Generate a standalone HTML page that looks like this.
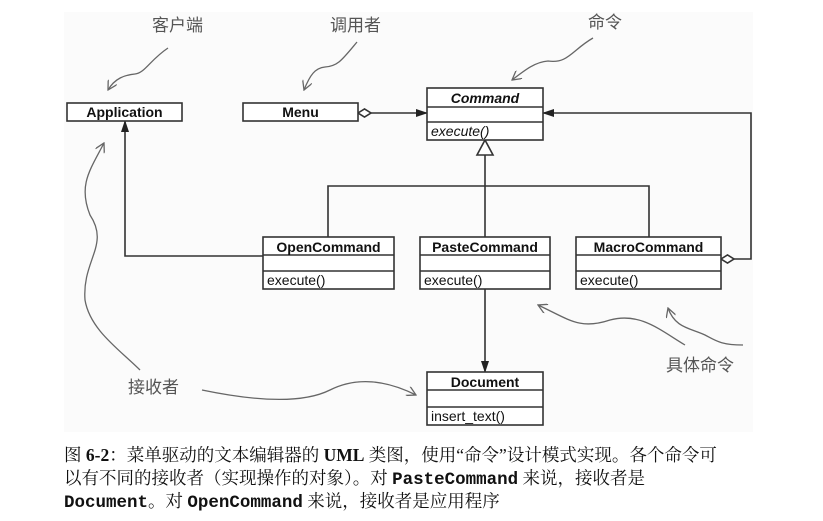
<!DOCTYPE html>
<html><head><meta charset="utf-8"><style>
body{margin:0;background:#fff;width:823px;height:521px;overflow:hidden;position:relative;font-family:"Liberation Sans","Noto Sans CJK SC",sans-serif}
svg{position:absolute;left:0;top:0}
.cap{position:absolute;left:64px;font-family:"Liberation Serif","Noto Serif CJK SC",serif;font-size:17.5px;line-height:23px;color:#111;white-space:nowrap}
.m{font-family:"Liberation Mono","Noto Sans CJK SC",monospace;font-weight:bold;font-size:17.5px}
</style></head><body>
<svg width="823" height="521" viewBox="0 0 823 521">
<defs>
<marker id="ah" markerWidth="12" markerHeight="8" refX="11" refY="4" orient="auto" markerUnits="userSpaceOnUse"><path d="M0,0 L12,4 L0,8 Z" fill="#222"/></marker>
<marker id="sa" markerWidth="12" markerHeight="10" refX="1" refY="5" orient="auto" markerUnits="userSpaceOnUse"><path d="M10,0 L1,5 L10,10" fill="none" stroke="#666" stroke-width="1.3"/></marker>
</defs>
<rect x="64" y="12" width="689" height="420" fill="#fbfbfb"/>
<g stroke="#333" stroke-width="1.6" fill="none">
<line x1="371" y1="113" x2="427" y2="113" marker-end="url(#ah)"/>
<path d="M358,113 L364.5,109 L371,113 L364.5,117 Z" fill="#fff"/>
<polyline points="734,259 751,259 751,113 543,113" marker-end="url(#ah)"/>
<path d="M721,259 L727.5,255 L734,259 L727.5,263 Z" fill="#fff"/>
<path d="M485,140 L477,155 L493,155 Z" fill="#fff"/>
<line x1="485" y1="155" x2="485" y2="237"/>
<polyline points="328,237 328,186 649,186 649,237"/>
<polyline points="263,256 125,256 125,121" marker-end="url(#ah)"/>
<line x1="485" y1="289" x2="485" y2="372" marker-end="url(#ah)"/>
</g>
<g stroke="#333" stroke-width="1.6" fill="#fff">
<rect x="67" y="103" width="115" height="18"/>
<rect x="243" y="103" width="115" height="18"/>
<rect x="427" y="88" width="116" height="52"/>
<line x1="427" y1="107" x2="543" y2="107"/><line x1="427" y1="122" x2="543" y2="122"/>
<rect x="263" y="237" width="131" height="52"/>
<line x1="263" y1="255" x2="394" y2="255"/><line x1="263" y1="271" x2="394" y2="271"/>
<rect x="420" y="237" width="130" height="52"/>
<line x1="420" y1="255" x2="550" y2="255"/><line x1="420" y1="271" x2="550" y2="271"/>
<rect x="576" y="237" width="145" height="52"/>
<line x1="576" y1="255" x2="721" y2="255"/><line x1="576" y1="271" x2="721" y2="271"/>
<rect x="427" y="372" width="116" height="53"/>
<line x1="427" y1="390" x2="543" y2="390"/><line x1="427" y1="407" x2="543" y2="407"/>
</g>
<g font-size="14" fill="#111" font-family="Liberation Sans,sans-serif">
<text x="124.5" y="117" text-anchor="middle" font-weight="bold">Application</text>
<text x="300.5" y="117" text-anchor="middle" font-weight="bold">Menu</text>
<text x="485" y="103" text-anchor="middle" font-weight="bold" font-style="italic">Command</text>
<text x="431" y="136" font-style="italic">execute()</text>
<text x="328.5" y="252" text-anchor="middle" font-weight="bold">OpenCommand</text>
<text x="267" y="285">execute()</text>
<text x="485" y="252" text-anchor="middle" font-weight="bold">PasteCommand</text>
<text x="424" y="285">execute()</text>
<text x="648.5" y="252" text-anchor="middle" font-weight="bold">MacroCommand</text>
<text x="580" y="285">execute()</text>
<text x="485" y="387" text-anchor="middle" font-weight="bold">Document</text>
<text x="431" y="421">insert_text()</text>
</g>
<g font-size="17" fill="#555" font-family="Noto Sans CJK SC,sans-serif">
<text x="152" y="31">客户端</text>
<text x="330" y="31">调用者</text>
<text x="588" y="28">命令</text>
<text x="666" y="371">具体命令</text>
<text x="128" y="393">接收者</text>
</g>
<g stroke="#666" stroke-width="1.3" fill="none">
<path d="M108,90 C115,78 125,75 135,74 C145,73 150,60 168,48" marker-start="url(#sa)"/>
<path d="M304,90 C310,75 315,68 325,67 C338,66 342,60 357,42" marker-start="url(#sa)"/>
<path d="M512,80 C525,70 535,62 548,61 C568,64 572,50 593,38" marker-start="url(#sa)"/>
<path d="M104,143 C90,170 78,185 90,215 C110,245 82,260 85,300 C90,330 120,350 140,370" marker-start="url(#sa)"/>
<path d="M416,395 C390,382 360,375 330,390 C300,405 250,400 202,390" marker-start="url(#sa)"/>
<path d="M538,305 C570,320 580,330 610,320 C640,312 660,330 685,345" marker-start="url(#sa)"/>
<path d="M668,308 C675,328 690,328 705,335 C715,340 720,345 743,345" marker-start="url(#sa)"/>
</g>
</svg>
<div class="cap" style="top:444px">图 <b>6-2</b>：菜单驱动的文本编辑器的 <b>UML</b> 类图，使用“命令”设计模式实现。各个命令可</div>
<div class="cap" style="top:467px">以有不同的接收者（实现操作的对象）。对 <span class="m">PasteCommand</span> 来说，接收者是</div>
<div class="cap" style="top:490px"><span class="m">Document</span>。对 <span class="m">OpenCommand</span> 来说，接收者是应用程序</div>
</body></html>
